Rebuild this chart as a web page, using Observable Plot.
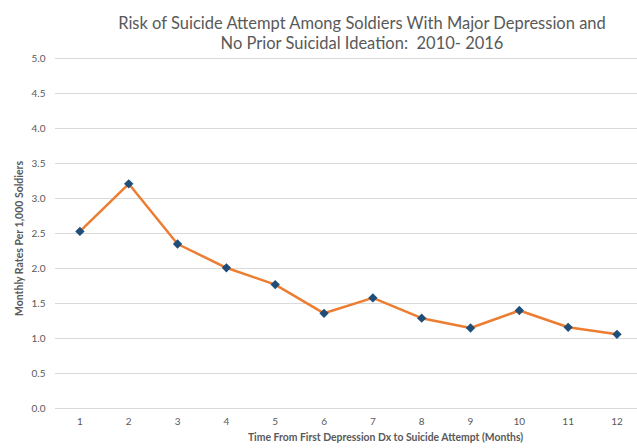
<!DOCTYPE html>
<html>
<head>
<meta charset="utf-8">
<script src="https://cdn.jsdelivr.net/npm/d3@7"></script>
<script src="https://cdn.jsdelivr.net/npm/@observablehq/plot@0.6"></script>
<style>
  html, body { margin: 0; padding: 0; background: #fff; }
  #wrap { width: 637px; height: 448px; position: relative; font-family: Lato, "Open Sans", sans-serif; }
  #title { height: 52px; width: 726px; margin-left: -1px; text-align: center; color: #595959; font-size: 16.5px; line-height: 20px; padding-top: 13px; box-sizing: border-box; white-space: nowrap; }
  svg { display: block; }
</style>
</head>
<body>
<div id="wrap">
  <div id="title">Risk of Suicide Attempt Among Soldiers With Major Depression and<br>No Prior Suicidal Ideation:&nbsp; 2010- 2016</div>
  <div id="chart"></div>
</div>
<script>
const months = [1, 2, 3, 4, 5, 6, 7, 8, 9, 10, 11, 12];
const rates = [2.53, 3.21, 2.35, 2.01, 1.77, 1.36, 1.58, 1.29, 1.15, 1.40, 1.16, 1.06];
const yTicks = [0, 0.5, 1, 1.5, 2, 2.5, 3, 3.5, 4, 4.5, 5];
const yTitle = "Monthly Rates Per 1,000 Soldiers";
const xTitle = "Time From First Depression Dx to Suicide Attempt (Months)";

const data = months.map((m, i) => ({month: m, rate: rates[i]}));

const chart = Plot.plot({
  width: 637,
  height: 396,
  marginLeft: 55,
  marginRight: 0,
  marginTop: 6,
  marginBottom: 40,
  style: {fontFamily: "Lato, 'Open Sans', sans-serif", fontSize: "10px", color: "#595959", background: "#fff"},
  x: {type: "linear", domain: [0.5, 12.42], label: null},
  y: {domain: [0, 5], label: null},
  marks: [
    Plot.gridY(yTicks, {stroke: "#d9d9d9", strokeOpacity: 1, strokeWidth: 1.2}),
    Plot.axisY(yTicks, {tickSize: 0, tickPadding: 10, tickFormat: d => d.toFixed(1), fill: "#595959", label: null}),
    Plot.axisX(months, {tickSize: 0, tickPadding: 9, tickFormat: d => String(d), fill: "#595959", label: null}),
    Plot.text([yTitle], {frameAnchor: "left", rotate: -90, dx: -36, dy: 5, text: d => d, fontWeight: "bold", fontSize: 10.5, fill: "#595959", lineAnchor: "middle", textAnchor: "middle"}),
    Plot.text([xTitle], {frameAnchor: "bottom", dx: 39, dy: 29, text: d => d, fontWeight: "bold", fontSize: 10.4, fill: "#595959", lineAnchor: "middle", textAnchor: "middle"}),
    Plot.line(data, {x: "month", y: "rate", stroke: "#ED7D31", strokeWidth: 2.5}),
    Plot.dot(data, {x: "month", y: "rate", symbol: "diamond2", fill: "#1F4E79", r: 4.2})
  ]
});
document.getElementById("chart").appendChild(chart);
</script>
</body>
</html>
